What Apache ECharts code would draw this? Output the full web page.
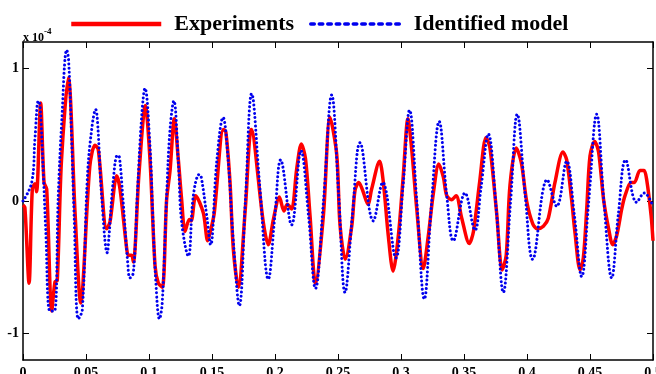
<!DOCTYPE html>
<html>
<head>
<meta charset="utf-8">
<script src="https://cdn.jsdelivr.net/npm/echarts@6/dist/echarts.min.js"></script>
<style>
  html, body { margin: 0; padding: 0; background: #fff; }
  #chart { width: 656px; height: 374px; }
</style>
</head>
<body>
<div id="chart"></div>
<script>
  // values in units of 1e-4
  const expT = [0, 0.0015, 0.0048, 0.0074, 0.0095, 0.0108, 0.014, 0.0167, 0.0188, 0.0228, 0.0254, 0.0272,
    0.0305, 0.036, 0.0413, 0.0458, 0.053, 0.0571, 0.0597, 0.0664, 0.069, 0.0744, 0.077, 0.0823, 0.0836,
    0.0862, 0.0876, 0.092, 0.0971, 0.1008, 0.1048, 0.1074, 0.1106, 0.114, 0.1167, 0.1201, 0.1233, 0.1259,
    0.1286, 0.132, 0.1335, 0.1371, 0.1431, 0.1466, 0.1492, 0.1518, 0.159, 0.161, 0.1643, 0.1669, 0.1709,
    0.1765, 0.1812, 0.1907, 0.1947, 0.1987, 0.2035, 0.2071, 0.2098, 0.2132, 0.2172, 0.2209, 0.2242, 0.2278,
    0.2321, 0.2384, 0.2437, 0.249, 0.2516, 0.2558, 0.2609, 0.2635, 0.2665, 0.2692, 0.2738, 0.2767, 0.283,
    0.286, 0.2899, 0.2937, 0.2979, 0.3018, 0.3055, 0.3085, 0.3125, 0.3177, 0.3217, 0.3257, 0.33, 0.3336,
    0.3363, 0.3402, 0.3437, 0.3482, 0.3542, 0.3575, 0.3625, 0.3675, 0.3706, 0.3759, 0.3803, 0.3835, 0.3865,
    0.3915, 0.3955, 0.3997, 0.4045, 0.4082, 0.413, 0.4169, 0.4222, 0.4285, 0.4315, 0.4354, 0.4381, 0.4421,
    0.4447, 0.4474, 0.45, 0.4537, 0.4568, 0.4608, 0.4648, 0.468, 0.4712, 0.4752, 0.4778, 0.4826, 0.4852,
    0.4897, 0.4929, 0.495, 0.4985, 0.5];
  const expY = [-0.03, -0.05, -0.62, 0.09, 0.13, 0.07, 0.74, 0.14, 0.09, -0.83, -0.61, -0.6,
    0.3, 0.93, -0.085, -0.77, 0.26, 0.42, 0.39, -0.21, -0.16, 0.19, 0.09, -0.36, -0.41,
    -0.41, -0.46, 0.2, 0.72, 0.31, -0.49, -0.62, -0.65, 0.01, 0.23, 0.62, 0.31, 0.01,
    -0.23, -0.14, -0.15, 0.04, -0.09, -0.3, -0.21, -0.09, 0.54, 0.52, 0.14, -0.36, -0.65,
    -0.05, 0.54, -0.16, -0.33, -0.14, 0.03, -0.075, -0.025, -0.06, 0.24, 0.43, 0.32, -0.11,
    -0.62, -0.11, 0.63, 0.35, -0.18, -0.44, -0.19, 0.08, 0.14, 0.09, -0.025, 0.09, 0.3,
    0.14, -0.26, -0.53, -0.26, 0.19, 0.62, 0.39, -0.06, -0.51, -0.26, 0.06, 0.28, 0.18,
    0.04, 0.01, 0.04, -0.13, -0.32, -0.23, 0.15, 0.48, 0.4, -0.09, -0.52, -0.41, 0.12,
    0.4, 0.29, 0, -0.17, -0.21, -0.19, -0.13, 0.14, 0.37, 0.31, 0.01, -0.24, -0.52,
    -0.43, -0.06, 0.34, 0.45, 0.37, 0.01, -0.21, -0.33, -0.26, -0.06, 0.04, 0.14, 0.14,
    0.23, 0.23, 0.16, -0.11, -0.3];

  const modelT = [0, 0.0069, 0.0095, 0.0122, 0.0135, 0.0161, 0.018, 0.0214, 0.0249, 0.028, 0.0307, 0.0347,
    0.0362, 0.0386, 0.0405, 0.0439, 0.0471, 0.051, 0.0545, 0.0577, 0.0592, 0.0624, 0.0669, 0.0683, 0.0717,
    0.0749, 0.0765, 0.0791, 0.0831, 0.0849, 0.0876, 0.0907, 0.0942, 0.0968, 0.1008, 0.1029, 0.1053, 0.1083,
    0.1105, 0.114, 0.1167, 0.1197, 0.1233, 0.1259, 0.1312, 0.1352, 0.1399, 0.1413, 0.1458, 0.1489, 0.1537,
    0.1588, 0.1625, 0.1669, 0.1717, 0.1765, 0.1815, 0.188, 0.1947, 0.2, 0.2045, 0.2132, 0.2206, 0.2265,
    0.2321, 0.2385, 0.245, 0.2505, 0.2556, 0.2615, 0.2675, 0.278, 0.2855, 0.2959, 0.3015, 0.3068, 0.3125,
    0.3185, 0.324, 0.3303, 0.3363, 0.3415, 0.3508, 0.3587, 0.3635, 0.3693, 0.3755, 0.3812, 0.387, 0.3923,
    0.3985, 0.4045, 0.416, 0.4236, 0.4315, 0.4375, 0.4434, 0.449, 0.4553, 0.461, 0.4672, 0.4725, 0.4783,
    0.487, 0.4931, 0.5];
  const modelY = [0, 0.14, 0.47, 0.755, 0.72, 0.21, -0.21, -0.83, -0.83, 0.04, 0.59, 1.14,
    1.06, 0.47, -0.09, -0.89, -0.82, 0.16, 0.54, 0.69, 0.59, 0.04, -0.39, -0.26, 0.16,
    0.345, 0.33, 0.04, -0.465, -0.58, -0.54, 0.04, 0.64, 0.85, 0.41, -0.09, -0.59, -0.89,
    -0.77, 0.04, 0.54, 0.755, 0.29, -0.16, -0.415, 0.04, 0.2, 0.19, -0.11, -0.33, 0.29,
    0.63, 0.35, -0.3, -0.79, 0, 0.81, 0.1, -0.59, -0.1, 0.31, -0.18, 0.38, -0.1,
    -0.66, 0, 0.8, 0.05, -0.69, -0.1, 0.44, -0.15, 0.14, -0.43, 0.1, 0.685, 0,
    -0.74, -0.05, 0.6, 0.04, -0.3, 0.06, -0.22, 0.1, 0.505, -0.05, -0.69, 0, 0.655,
    0.05, -0.44, 0.16, -0.04, 0.3, -0.1, -0.57, 0, 0.655, 0, -0.58, -0.1, 0.31,
    -0.01, 0.06, -0.04];

  const yTicks = [-1, 0, 1];
  const names = ['Experiments', 'Identified model'];

  const serif = "'Liberation Serif', 'Times New Roman', serif";
  const pairs = (xs, ys) => xs.map((x, i) => [x, ys[i]]);
  const frameLine = { onZero: false, lineStyle: { color: '#000', width: 1.5 } };

  var chart = echarts.init(document.getElementById('chart'));
  const option = {
    animation: false,
    grid: { left: 23, right: 3, top: 42, bottom: 14, outerBoundsMode: 'none', containLabel: false },
    legend: {
      show: true,
      left: 64,
      top: 8,
      itemWidth: 90,
      itemHeight: 14,
      itemGap: 15,
      itemStyle: { opacity: 0 },
      textStyle: { fontFamily: serif, fontWeight: 'bold', fontSize: 22, color: '#000', padding: [0, 0, 0, 8] },
      data: [
        { name: names[0], lineStyle: { width: 4.5 } },
        { name: names[1], lineStyle: { width: 3.5, type: [3.5, 5] } }
      ]
    },
    graphic: [{
      type: 'text',
      left: 23,
      top: 27,
      style: {
        text: '{a|x 10}{b|-4}',
        rich: {
          a: { fontFamily: serif, fontWeight: 'bold', fontSize: 12, fill: '#000', verticalAlign: 'bottom', padding: [5, 0, 0, 0] },
          b: { fontFamily: serif, fontWeight: 'bold', fontSize: 9, fill: '#000', verticalAlign: 'top' }
        }
      }
    }],
    xAxis: [{
      type: 'value', min: 0, max: 0.5, interval: 0.05,
      axisLine: frameLine,
      axisTick: { inside: true, length: 6, lineStyle: { color: '#000' } },
      splitLine: { show: false },
      axisLabel: {
        margin: 6, color: '#000', fontFamily: serif, fontWeight: 'bold', fontSize: 14,
        showMinLabel: true, showMaxLabel: true,
        formatter: v => String(parseFloat(v.toFixed(2)))
      }
    }, {
      type: 'value', min: 0, max: 0.5, interval: 0.05, position: 'top',
      axisLine: frameLine,
      axisTick: { inside: true, length: 6, lineStyle: { color: '#000' } },
      splitLine: { show: false },
      axisLabel: { show: false }
    }],
    yAxis: [{
      type: 'value', min: -1.2, max: 1.2,
      axisLine: Object.assign({ show: true }, frameLine),
      axisTick: { show: true, inside: true, length: 6, customValues: yTicks, lineStyle: { color: '#000' } },
      splitLine: { show: false },
      axisLabel: {
        margin: 4, color: '#000', fontFamily: serif, fontWeight: 'bold', fontSize: 14,
        customValues: yTicks
      }
    }, {
      type: 'value', min: -1.2, max: 1.2, position: 'right',
      axisLine: Object.assign({ show: true }, frameLine),
      axisTick: { show: true, inside: true, length: 6, customValues: yTicks, lineStyle: { color: '#000' } },
      splitLine: { show: false },
      axisLabel: { show: false }
    }],
    series: [{
      name: names[0],
      type: 'line',
      data: pairs(expT, expY),
      showSymbol: false,
      symbol: 'none',
      smooth: 0.3,
      lineStyle: { color: '#ff0000', width: 3.5 },
      itemStyle: { color: '#ff0000' },
      z: 2
    }, {
      name: names[1],
      type: 'line',
      data: pairs(modelT, modelY),
      showSymbol: false,
      symbol: 'none',
      smooth: 0.4,
      lineStyle: { color: '#0000ee', width: 3, type: [0.01, 4.2], cap: 'round' },
      itemStyle: { color: '#0000ee' },
      z: 3
    }]
  };
  chart.setOption(option);
</script>
</body>
</html>
